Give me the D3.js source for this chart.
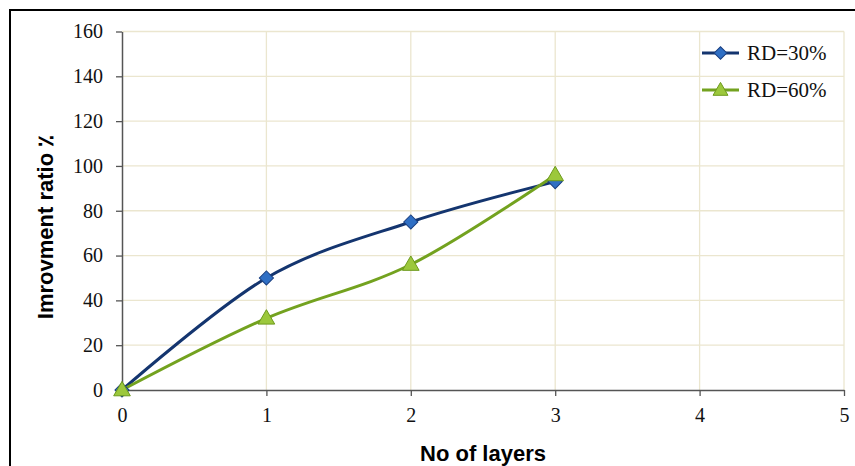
<!DOCTYPE html>
<html><head><meta charset="utf-8">
<script src="https://cdn.jsdelivr.net/npm/d3@7"></script>
<style>body{margin:0;background:#fff}svg{display:block}
.serif{font-family:"Liberation Serif","Times New Roman",serif}
.sansb{font-family:"Liberation Sans",Arial,sans-serif;font-weight:bold}
</style>
</head><body>
<svg id="c" width="855" height="466"></svg>
<script>
const layers = [0, 1, 2, 3];
const rd30 = [0, 50, 75, 93];
const rd60 = [0, 32, 56, 96];
const seriesNames = ["RD=30%", "RD=60%"];
const xTicks = [0, 1, 2, 3, 4, 5];
const yTicks = [0, 20, 40, 60, 80, 100, 120, 140, 160];

const svg = d3.select("#c");
const x = d3.scaleLinear().domain([0, 5]).range([122, 844]);
const y = d3.scaleLinear().domain([0, 160]).range([390, 31.5]);

// outer frame
svg.append("rect").attr("x", 10).attr("y", 10).attr("width", 900).attr("height", 500)
  .attr("fill", "none").attr("stroke", "#000").attr("stroke-width", 2);

const grid = "#ebe6cf";
svg.append("g").selectAll("line").data(yTicks.filter(d => d > 0)).join("line")
  .attr("x1", x(0)).attr("x2", x(5)).attr("y1", d => y(d)).attr("y2", d => y(d))
  .attr("stroke", grid).attr("stroke-width", 1.3);
svg.append("g").selectAll("line").data(xTicks.filter(d => d > 0)).join("line")
  .attr("y1", y(0)).attr("y2", y(160)).attr("x1", d => x(d)).attr("x2", d => x(d))
  .attr("stroke", grid).attr("stroke-width", 1.3);

const axisColor = "#555";
const gx = svg.append("g").attr("transform", `translate(0,${y(0)})`)
  .call(d3.axisBottom(x).tickValues(xTicks).tickSize(6).tickPadding(12).tickSizeOuter(0).tickFormat(d3.format("d")));
const gy = svg.append("g").attr("transform", `translate(${x(0)},0)`)
  .call(d3.axisLeft(y).tickValues(yTicks).tickSize(6).tickPadding(13).tickSizeOuter(0));
[gx, gy].forEach(g => {
  g.attr("font-family", null).attr("font-size", null);
  g.select(".domain").attr("stroke", axisColor).attr("stroke-width", 1.5);
  g.selectAll(".tick line").attr("stroke", axisColor).attr("stroke-width", 1.3);
  g.selectAll(".tick text").attr("class", "serif").style("font-size", "20px").attr("fill", "#111");
});

// titles
svg.append("text").attr("x", 483).attr("y", 461).attr("text-anchor", "middle")
  .attr("class", "sansb").style("font-size", "22px").attr("fill", "#000").text("No of layers");
svg.append("text").attr("transform", "translate(53,227) rotate(-90)").attr("text-anchor", "middle")
  .attr("class", "sansb").style("font-size", "22px").attr("fill", "#000").text("Imrovment ratio ٪");

const series = [
  {name: seriesNames[0], vals: rd30, line: "#14356f", fill: "#2f6fc4", stroke: "#1a3f80", sym: d3.symbolSquare, size: 100, rot: 45, dy: 0},
  {name: seriesNames[1], vals: rd60, line: "#73a21f", fill: "#9cc83c", stroke: "#6d9a1c", sym: d3.symbolTriangle, size: 120, rot: 0, dy: 1}
];
const lineGen = d3.line().curve(d3.curveCatmullRom.alpha(0)).x(d => x(d[0])).y(d => y(d[1]));

series.forEach(s => {
  const pts = layers.map((l, i) => [l, s.vals[i]]);
  svg.append("path").datum(pts).attr("d", lineGen).attr("fill", "none")
    .attr("stroke", s.line).attr("stroke-width", 3).attr("stroke-linejoin", "round");
});
series.forEach(s => {
  const pts = layers.map((l, i) => [l, s.vals[i]]);
  svg.append("g").selectAll("path").data(pts).join("path")
    .attr("transform", d => `translate(${x(d[0])},${y(d[1]) + s.dy}) rotate(${s.rot})`)
    .attr("d", d3.symbol().type(s.sym).size(s.size))
    .attr("fill", s.fill).attr("stroke", s.stroke).attr("stroke-width", 1);
});

// legend
const lg = svg.append("g");
series.forEach((s, i) => {
  const yy = 53 + i * 37;
  lg.append("line").attr("x1", 702).attr("x2", 739).attr("y1", yy).attr("y2", yy)
    .attr("stroke", s.line).attr("stroke-width", 3);
  lg.append("path").attr("transform", `translate(720.5,${yy + s.dy}) rotate(${s.rot})`)
    .attr("d", d3.symbol().type(s.sym).size(s.size * 0.8))
    .attr("fill", s.fill).attr("stroke", s.stroke).attr("stroke-width", 1);
  lg.append("text").attr("x", 747).attr("y", yy + 7).attr("class", "serif")
    .style("font-size", "21px").attr("fill", "#111").text(s.name);
});
</script>
</body></html>
